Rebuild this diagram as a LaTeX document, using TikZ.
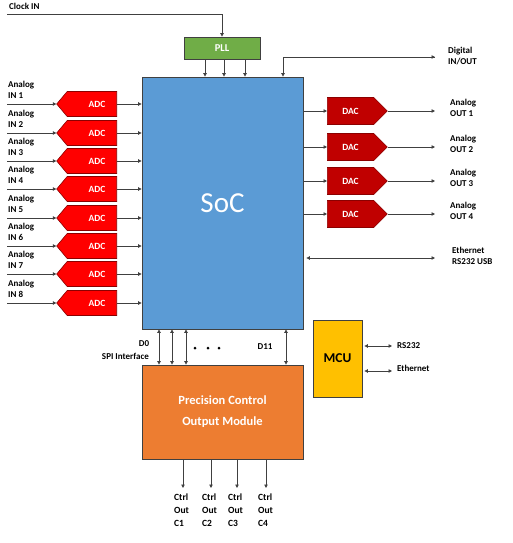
\documentclass[tikz,border=0pt]{standalone}
\usepackage{fontspec}
\setmainfont{Carlito}
\usetikzlibrary{shapes.symbols,arrows.meta}
\definecolor{lc}{HTML}{404040}
\definecolor{adcred}{HTML}{FF0000}
\definecolor{dacred}{HTML}{C00000}
\definecolor{bord}{HTML}{8B0000}
\definecolor{socblue}{HTML}{5B9BD5}
\definecolor{pllgreen}{HTML}{70AD47}
\definecolor{mcuyel}{HTML}{FFC000}
\definecolor{pcorange}{HTML}{ED7D31}
\tikzset{
  conn/.style={draw=lc, line width=0.8pt, -{Triangle[length=3.5pt,width=3.5pt]}},
  biconn/.style={draw=lc, line width=0.8pt, {Triangle[length=3.5pt,width=3.5pt]}-{Triangle[length=3.5pt,width=3.5pt]}},
  lbl/.style={font=\fontsize{9}{11.5}\selectfont\bfseries, inner sep=0pt, anchor=west, align=left},
  adcbox/.style={signal, signal to=west, signal pointer angle=100, fill=adcred, draw=bord, line width=0.6pt, minimum width=60pt, minimum height=25pt, inner sep=0pt, text=white, font=\fontsize{9.5}{10}\selectfont\bfseries, anchor=east},
  dacbox/.style={signal, signal to=east, signal pointer angle=90, fill=dacred, draw=bord, line width=0.6pt, minimum width=60pt, minimum height=27pt, inner sep=0pt, text=white, font=\fontsize{9.5}{10}\selectfont\bfseries, anchor=west},
  blk/.style={draw=lc, line width=0.8pt, inner sep=0pt},
}
\begin{document}
\begin{tikzpicture}[x=1pt,y=-1pt]
\useasboundingbox (0,0) rectangle (513,543);
% main blocks
\node[blk, fill=socblue, minimum width=161pt, minimum height=252pt, text=white, font=\fontsize{29}{30}\selectfont] (soc) at (222.5,203) {SoC};
\node[blk, fill=pllgreen, minimum width=76pt, minimum height=22pt, text=white, font=\fontsize{10.5}{11}\selectfont\bfseries] (pll) at (222,48) {PLL};
\node[blk, fill=mcuyel, minimum width=49pt, minimum height=77pt, font=\fontsize{13.5}{15}\selectfont\bfseries] (mcu) at (337.5,358.5) {MCU};
\node[blk, fill=pcorange, minimum width=161pt, minimum height=94pt, text=white, font=\fontsize{12.5}{21}\selectfont\bfseries, align=center] (pcom) at (222.5,412) {Precision Control\\Output Module};
% Clock
\node[lbl] (clk) at (9,6) {Clock IN};
\coordinate (clkin) at (7,14);
\draw[conn] (clkin) -| (pll.north);
% PLL to SoC
\foreach \x in {205,224,245}{
  \draw[conn] (pll.south -| \x,0) -- (soc.north -| \x,0);
}
% Digital IN/OUT
\coordinate (digend) at (435,57);
\coordinate (digtop) at (283,57);
\draw[conn] (digend) -- (digtop) -- (soc.north -| digtop);
\draw[conn] (digtop) -- (digend);
\node[lbl] (dig) at (448,56) {Digital\\IN/OUT};
% ADCs
\foreach \i/\y in {1/104,2/133,3/161,4/189,5/218,6/246,7/274,8/303}{
  \node[adcbox] (adc\i) at (117,\y) {\hspace{10pt}ADC};
  \coordinate (ain\i) at (7,\y);
  \draw[conn] (ain\i) -- (adc\i.west);
  \draw[conn] (adc\i.east) -- (soc.west |- adc\i.east);
  \node[lbl] (al\i) at (8,\y-14) {Analog\\IN \i};
}
% DACs
\foreach \i/\y in {1/111,2/147,3/181,4/214}{
  \node[dacbox] (dac\i) at (327,\y) {DAC\hspace{10pt}};
  \coordinate (aout\i) at (435,\y);
  \draw[conn] (soc.east |- dac\i.west) -- (dac\i.west);
  \draw[conn] (dac\i.east) -- (aout\i);
  \node[lbl] (dl\i) at (450,\y-3) {Analog\\OUT \i};
}
% Ethernet / RS232 USB
\coordinate (ethend) at (435,258);
\draw[biconn] (soc.east |- ethend) ++(3,0) -- (ethend);
\node[lbl] (eth) at (452,256) {Ethernet\\RS232 USB};
% MCU ports
\coordinate (mrs) at (392,346);
\coordinate (meth) at (392,371);
\draw[biconn] (mcu.east |- mrs) ++(2,0) -- (mrs);
\draw[biconn] (mcu.east |- meth) ++(2,0) -- (meth);
\node[lbl] (rs) at (397,346) {RS232};
\node[lbl] (et2) at (397,368) {Ethernet};
% SPI lines
\foreach \x in {159,172,186,286}{
  \draw[biconn] (soc.south -| \x,0) -- (pcom.north -| \x,0);
}
\foreach \x in {195,208,219}{
  \fill[black] (\x,348) circle (1.5pt);
}
\node[lbl, anchor=center] (d0) at (144,344) {D0};
\node[lbl, anchor=east] (spi) at (149,356) {SPI Interface};
\node[lbl, anchor=center] (d11) at (265,347) {D11};
% outputs
\foreach \i/\x/\tx in {1/183/174,2/211/202,3/237/228,4/266/258}{
  \coordinate (cout\i) at (\x,488);
  \draw[conn] (pcom.south -| cout\i) -- (cout\i);
  \node[lbl, anchor=north west, align=left, font=\fontsize{9.5}{13}\selectfont\bfseries] (cl\i) at (\tx,494) {Ctrl\\Out\\C\i};
}
\end{tikzpicture}
\end{document}
